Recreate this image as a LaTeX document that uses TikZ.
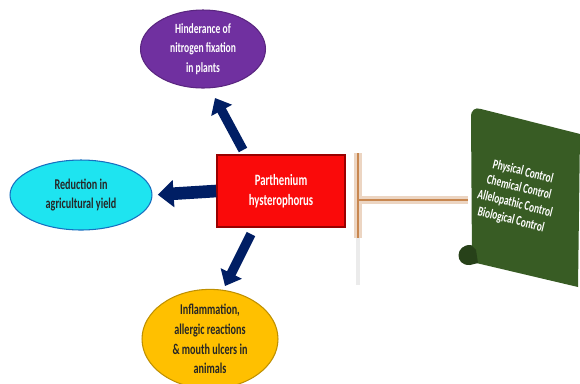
\documentclass[tikz,border=0pt]{standalone}
\usepackage{fontspec}
\usetikzlibrary{shapes.geometric,arrows.meta}
\newfontfamily\narrowfont{Carlito}[FakeStretch=0.68]
\definecolor{purpleblob}{RGB}{112,48,160}
\definecolor{cyanblob}{RGB}{30,228,240}
\definecolor{goldblob}{RGB}{255,192,0}
\definecolor{weedred}{RGB}{250,10,10}
\definecolor{navyarrow}{RGB}{0,30,100}
\definecolor{scrollgreen}{RGB}{56,92,36}
\definecolor{inhibitline}{RGB}{200,135,80}
\tikzset{
    effect/.style={ellipse, draw, line width=0.6pt, inner sep=0pt, align=center,
        font=\narrowfont\bfseries\fontsize{8.5}{11.3}\selectfont},
    bigarrow/.style={navyarrow, line width=5.4pt, -{Triangle[width=13pt, length=8pt]}},
}
\begin{document}
\begin{tikzpicture}[x=0.02cm, y=-0.02cm]
        \useasboundingbox (0,0) rectangle (580,383);
        % centre weed
        \node[draw=red!60!black, fill=weedred, line width=1pt, minimum width=2.56cm, minimum height=1.44cm,
              text=white, align=center, font=\narrowfont\bfseries\fontsize{9}{11.3}\selectfont] (weed) at (281,191) {Parthenium\\hysterophorus};
        
        % effects
        \node[style=effect, fill=purpleblob, draw=purpleblob!80!black, text=white,
              font=\narrowfont\bfseries\fontsize{8}{11}\selectfont,
              minimum width=2.5cm, minimum height=1.56cm] (nitrogen) at (203,49) {Hinderance of\\nitrogen fixation\\in plants};
        \node[style=effect, fill=cyanblob, draw=cyan!50!blue, text=black!85,
              minimum width=2.84cm, minimum height=1.4cm] (yield) at (81,195) {Reduction in\\agricultural yield};
        \node[style=effect, fill=goldblob, draw=goldblob!75!black, text=black!85,
              minimum width=2.72cm, minimum height=1.76cm] (animals) at (210,339) {Inflammation,\\allergic reactions\\\& mouth ulcers in\\animals};
        
        \coordinate (up tail) at (243,150);
        \coordinate (up tip) at (215,98);
        \coordinate (down tail) at (251,234);
        \coordinate (down tip) at (225,286);
        \draw[bigarrow] (up tail) -- (up tip);
        \draw[bigarrow] (down tail) -- (down tip);
        \draw[bigarrow, line width=7.2pt, -{Triangle[width=15pt, length=9pt]}, shorten >=3pt] (weed.west) -- (yield.east);
        
        % control scroll
        \fill[scrollgreen] (471,117) .. controls (471,110) and (475,107) .. (481,109) -- (580,134)
            -- (578,287) -- (472,262) -- cycle;
        \fill[scrollgreen!70!black] (471,245) .. controls (455,244) and (454,266) .. (470,265)
            -- (478,263) -- (476,250) -- cycle;
        \node[rotate=-14, text=white, align=center, font=\narrowfont\bfseries\fontsize{7.8}{9.4}\selectfont]
            (controls) at (517,196) {Physical Control\\Chemical Control\\Allelopathic Control\\Biological Control};
        \coordinate (scroll west) at (468,200);
        
        % inhibition bar
        \coordinate (bar top) at (358,153);
        \coordinate (bar mid) at (358,200);
        \coordinate (bar bottom) at (358,238);
        \coordinate (bar fade) at (358,285);
        \draw[black!8, line width=2pt] (bar bottom) -- (bar fade);
        \draw[inhibitline!35, line width=4pt] (bar top) -- (bar bottom) (scroll west) -- (bar mid);
        \draw[inhibitline, line width=1.6pt] (bar top) -- (bar bottom) (scroll west) -- (bar mid);
    \end{tikzpicture}
\end{document}
